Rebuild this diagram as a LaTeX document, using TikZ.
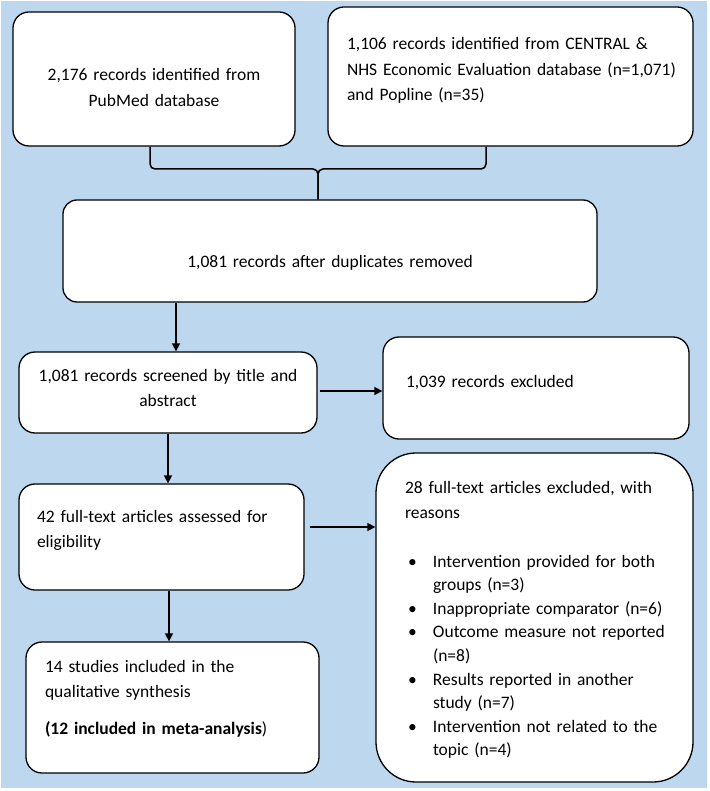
\documentclass[tikz,border=0pt]{standalone}
\usepackage{fontspec}
\setmainfont{Carlito}
\usepackage{tikz}
\usetikzlibrary{arrows.meta, positioning, calc}
\definecolor{bgblue}{RGB}{189,215,238}
\newcommand{\bul}[1]{\makebox[28pt][l]{\hspace*{3pt}\textbullet}\mbox{#1}}
\newcommand{\cont}[1]{\hspace*{28pt}\mbox{#1}}

\begin{document}
\begin{tikzpicture}[x=1pt, y=-1pt,
    box/.style={draw, fill=white, rounded corners=16pt, line width=1.3pt,
                inner sep=0pt, text height=0pt, text depth=0pt,
                font=\fontsize{17.5}{25.5}\selectfont},
    drop/.style={text height=#1, text depth=0pt},
    lift/.style={text height=0pt, text depth=#1},
    arr/.style={-{Triangle[length=8pt, width=8pt]}, line width=1.5pt},
    brace/.style={line width=1.5pt, rounded corners=5pt},
]

\useasboundingbox (0,0) rectangle (709,791);
\fill[white] (0,0) rectangle (709,791);
\fill[bgblue] (1,1) rectangle (707,788);

\node[box, drop=4pt, align=center, text width=270pt,
      minimum width=282pt, minimum height=134pt] (pubmed) at (154,79)
    {2,176 records identified from\\ PubMed database};
\node[box, lift=53pt, align=left, text width=327pt,
      minimum width=365pt, minimum height=139pt] (central) at (510.5,76.5)
    {\mbox{1,106 records identified from CENTRAL \&}\\
     \mbox{NHS Economic Evaluation database (n=1,071)}\\
     \mbox{and Popline (n=35)}};
\node[box, drop=34pt, align=center, text width=500pt, rounded corners=14pt,
      minimum width=534pt, minimum height=102pt] (dedup) at (330,251)
    {1,081 records after duplicates removed};
\node[box, lift=23pt, align=center, text width=280pt,
      minimum width=298pt, minimum height=81pt] (screen) at (168,392.5)
    {1,081 records screened by title and\\ abstract};
\node[box, lift=2pt, align=left, text width=260pt,
      minimum width=306pt, minimum height=102pt] (excl) at (536,388)
    {1,039 records excluded};
\node[box, lift=30pt, align=left, text width=249pt,
      minimum width=285pt, minimum height=106pt] (fulltext) at (161.5,537)
    {42 full-text articles assessed for\\ eligibility};
\node[box, lift=249pt, align=left, text width=259pt, rounded corners=40pt,
      minimum width=317pt, minimum height=329pt,
      font=\fontsize{17.5}{23.6}\selectfont] (reasons) at (534.5,617.5)
    {\mbox{28 full-text articles excluded, with}\\[1.4pt]
     reasons\\[25.4pt]
     \bul{Intervention provided for both}\\
     \cont{groups (n=3)}\\
     \bul{Inappropriate comparator (n=6)}\\
     \bul{Outcome measure not reported}\\
     \cont{(n=8)}\\
     \bul{Results reported in another}\\
     \cont{study (n=7)}\\
     \bul{Intervention not related to the}\\
     \cont{topic (n=4)}};
\node[box, lift=71pt, align=left, text width=255pt,
      minimum width=293pt, minimum height=131pt] (incl) at (172.5,707.5)
    {14 studies included in the\\
     qualitative synthesis\\[11.5pt]
     \textbf{(12 included in meta-analysis})};

\coordinate (join) at (318,169);
\draw[brace] ([xshift=-4pt]pubmed.south) |- (join) -- (join |- dedup.north);
\draw[brace] ([xshift=-24.5pt]central.south) |- (join) -- (join |- dedup.north);

\draw[arr] ([xshift=-154pt]dedup.south) -- ([xshift=8pt]screen.north);
\draw[arr] ([xshift=2pt, yshift=1.5pt]screen.east) -- ([yshift=-3pt]excl.west);
\draw[arr] (screen.south) -- ([xshift=6.5pt]fulltext.north);
\draw[arr] ([xshift=5pt, yshift=10pt]fulltext.east) -- ([yshift=90.5pt]reasons.west);
\draw[arr] ([xshift=7.5pt]fulltext.south) -- ([xshift=-3.5pt]incl.north);

\end{tikzpicture}
\end{document}
